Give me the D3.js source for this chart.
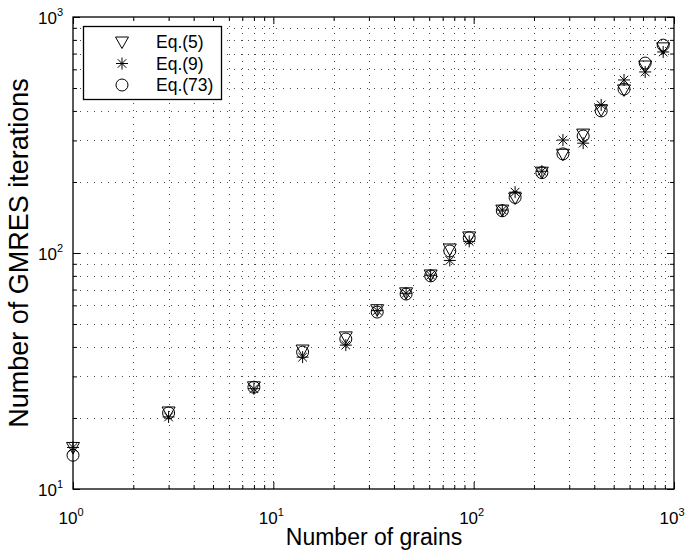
<!DOCTYPE html>
<html>
<head>
<meta charset="utf-8">
<script src="https://cdn.jsdelivr.net/npm/d3@7"></script>
<style>
  html, body { margin: 0; padding: 0; background: #fff; }
  text { font-family: "Liberation Sans", Arial, sans-serif; fill: #000; }
</style>
</head>
<body>
<svg id="chart" width="687" height="550"></svg>
<script>
// Number of grains for each run
const grains = [1, 3, 8, 14, 23, 33, 46, 61, 76, 95, 139, 161, 219, 279, 352, 433, 563, 718, 883];
// GMRES iteration counts per preconditioner equation
const eq5  = [15.0, 21.2, 27.1, 38.8, 44.1, 57.5, 67.8, 80.7, 104, 117, 152, 171, 220, 262, 319, 404, 491, 620, 740];
const eq9  = [15.0, 20.2, 26.6, 36.2, 40.7, 57.0, 67.5, 80.5, 93, 112, 152, 181, 222, 301, 292, 424, 541, 585, 711];
const eq73 = [13.9, 21.0, 27.0, 38.0, 43.2, 56.2, 67.0, 80.0, 102, 116, 151, 172, 219, 263, 313, 400, 495, 638, 760];

const seriesNames = ["Eq.(5)", "Eq.(9)", "Eq.(73)"];
const seriesMarkers = ["tri", "star", "circle"];
const xMajorExp = [0, 1, 2, 3];
const yMajorExp = [1, 2, 3];

const svg = d3.select("#chart");
const m = { left: 73, right: 674, top: 17, bottom: 489 };

const x = d3.scaleLog().domain([1, 1000]).range([m.left, m.right]);
const y = d3.scaleLog().domain([10, 1000]).range([m.bottom, m.top]);

// all decade and sub-decade positions
function logPositions(lo, hi) {
  const out = [];
  for (let e = lo; e < hi; e++) for (let k = 1; k <= 9; k++) out.push(k * Math.pow(10, e));
  out.push(Math.pow(10, hi));
  return out;
}
const isDecade = v => Math.abs(Math.log10(v) - Math.round(Math.log10(v))) < 1e-9;
const xAll = logPositions(0, 3);
const yAll = logPositions(1, 3);
const xMinor = xAll.filter(v => !isDecade(v));
const yMinor = yAll.filter(v => !isDecade(v));
const xMajor = xMajorExp.map(e => Math.pow(10, e));
const yMajor = yMajorExp.map(e => Math.pow(10, e));

// dotted grid
const grid = svg.append("g").attr("stroke", "#000").attr("stroke-width", 1)
  .attr("stroke-dasharray", "1,6").attr("opacity", 0.7);
grid.selectAll("line.gx").data(xAll.filter(v => v > 1 && v < 1000)).join("line")
  .attr("x1", d => Math.round(x(d)) + 0.5).attr("x2", d => Math.round(x(d)) + 0.5)
  .attr("y1", m.bottom).attr("y2", m.top);
grid.selectAll("line.gy").data(yAll.filter(v => v > 10 && v < 1000)).join("line")
  .attr("y1", d => Math.round(y(d)) + 0.5).attr("y2", d => Math.round(y(d)) + 0.5)
  .attr("x1", m.left).attr("x2", m.right);

// inward ticks on all four sides
function addAxis(axisFn, scale, values, size, transform) {
  const g = svg.append("g").attr("transform", transform)
    .call(axisFn(scale).tickValues(values).tickSize(size).tickFormat(""));
  g.select(".domain").remove();
  g.selectAll("line").attr("stroke", "#000").attr("stroke-width", 1);
}
addAxis(d3.axisBottom, x, xMajor, -7, `translate(0,${m.bottom})`);
addAxis(d3.axisBottom, x, xMinor, -4, `translate(0,${m.bottom})`);
addAxis(d3.axisTop, x, xMajor, -7, `translate(0,${m.top})`);
addAxis(d3.axisTop, x, xMinor, -4, `translate(0,${m.top})`);
addAxis(d3.axisLeft, y, yMajor, -7, `translate(${m.left},0)`);
addAxis(d3.axisLeft, y, yMinor, -4, `translate(${m.left},0)`);
addAxis(d3.axisRight, y, yMajor, -7, `translate(${m.right},0)`);
addAxis(d3.axisRight, y, yMinor, -4, `translate(${m.right},0)`);

// frame
svg.append("rect").attr("x", m.left).attr("y", m.top)
  .attr("width", m.right - m.left).attr("height", m.bottom - m.top)
  .attr("fill", "none").attr("stroke", "#000").attr("stroke-width", 1.3);

// tick labels as 10 with superscript exponent
function powLabel(sel, exp) {
  sel.append("tspan").text("10");
  sel.append("tspan").attr("dy", -8).attr("font-size", 11).text(exp);
}
xMajorExp.forEach(e => {
  svg.append("text").attr("x", x(Math.pow(10, e)) - 2).attr("y", 524)
    .attr("text-anchor", "middle").attr("font-size", 17).call(powLabel, e);
});
yMajorExp.forEach(e => {
  svg.append("text").attr("x", 63).attr("y", y(Math.pow(10, e)) + 7)
    .attr("text-anchor", "end").attr("font-size", 17).call(powLabel, e);
});

// axis titles
svg.append("text").attr("x", 374).attr("y", 544.5).attr("text-anchor", "middle")
  .attr("font-size", 23).text("Number of grains");
svg.append("text").attr("transform", `translate(28,${253}) rotate(-90)`)
  .attr("text-anchor", "middle").attr("font-size", 27).text("Number of GMRES iterations");

// marker shapes
function drawMarker(g, type) {
  if (type === "tri") {
    g.append("path").attr("d", "M-6.5,-5L6.5,-5L0,6.5Z");
  } else if (type === "circle") {
    g.append("circle").attr("r", 6);
  } else {
    g.append("path").attr("d", "M-6,0L6,0M0,-6L0,6M-4.3,-4.3L4.3,4.3M-4.3,4.3L4.3,-4.3");
  }
}

const plot = svg.append("g").attr("fill", "none").attr("stroke", "#000").attr("stroke-width", 1);
[eq5, eq9, eq73].forEach((vals, i) => {
  grains.forEach((gv, j) => {
    const g = plot.append("g").attr("transform", `translate(${x(gv)},${y(vals[j])})`);
    drawMarker(g, seriesMarkers[i]);
  });
});

// legend
const leg = svg.append("g");
leg.append("rect").attr("x", 83.5).attr("y", 26.5).attr("width", 138).attr("height", 73)
  .attr("fill", "#fff").attr("stroke", "#000").attr("stroke-width", 1.3);
seriesNames.forEach((name, i) => {
  const cy = 42 + i * 21.5;
  const mg = leg.append("g").attr("transform", `translate(122,${cy})`)
    .attr("fill", "none").attr("stroke", "#000").attr("stroke-width", 1);
  drawMarker(mg, seriesMarkers[i]);
  leg.append("text").attr("x", 156).attr("y", cy + 6).attr("font-size", 17.5).text(name);
});
</script>
</body>
</html>
